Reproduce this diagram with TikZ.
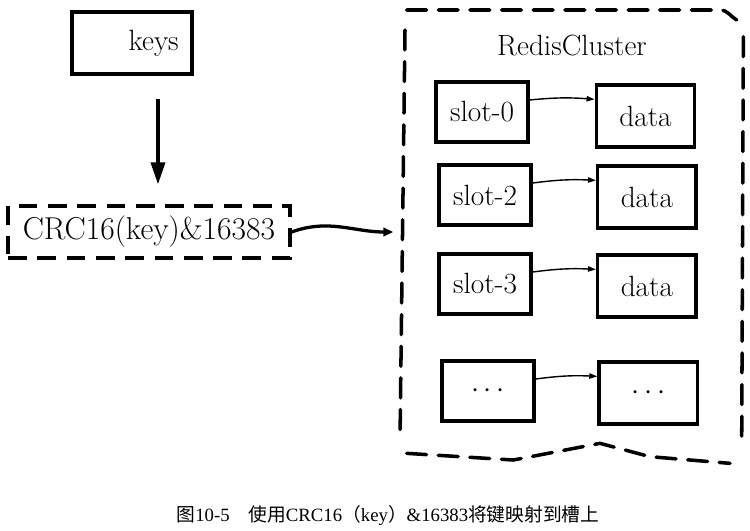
\documentclass[tikz,border=0pt]{standalone}
\usepackage{fontspec}
\usepackage{tikz}
\usetikzlibrary{arrows.meta, positioning, calc}
\newfontfamily\capfont{Liberation Serif}
\newfontfamily\cjk{Noto Sans CJK SC}
\tikzset{
  blk/.style={rectangle, draw=black, line width=3pt, align=center, inner sep=2pt, font=\fontsize{25}{29}\selectfont},
  slotbox/.style={blk, minimum width=2.75cm, minimum height=1.8cm},
  databox/.style={blk, minimum width=2.95cm, minimum height=1.85cm},
  hashbox/.style={blk, dashed, dash pattern=on 16pt off 9pt, minimum width=8.45cm, minimum height=1.55cm, font=\fontsize{27}{31}\selectfont},
  region/.style={line width=3pt, dash pattern=on 17pt off 10pt, line cap=round},
  bigarr/.style={-{Triangle[length=0.66cm, width=0.42cm]}, line width=3pt},
  midarr/.style={-{Triangle[length=0.3cm, width=0.25cm]}, line width=2.8pt},
  thinarr/.style={-{Triangle[length=0.24cm, width=0.16cm]}, line width=1.2pt},
}
\begin{document}
\begin{tikzpicture}
  \useasboundingbox (0,0) rectangle (22.5,-15.9);

  % left side
  \node[blk, minimum width=3.6cm, minimum height=1.86cm] (keys) at (3.96,-1.29) {\hspace*{1.3cm}keys};
  \node[hashbox] (crc) at (4.47,-6.96) {CRC16(key)\&16383};
  \draw[bigarr, shorten <=0.7cm, shorten >=0.6cm] ([xshift=0.78cm]keys.south) -- ([xshift=0.78cm]keys.south |- crc.north);

  % cluster region
  \coordinate (rin) at (11.8,-6.96);
  \draw[region] (12.15,-0.9) -- (12.0,-13.2);
  \draw[region] (12.2,-0.3) -- (21.6,-0.3) to[out=0,in=150] (22.1,-0.6);
  \draw[region] (22.3,-1.1) -- (22.25,-13.4);
  \draw[region] (12.2,-13.6) -- (15.4,-13.8) -- (18.0,-13.3) -- (19.5,-13.7) -- (21.9,-13.9);
  \node[font=\fontsize{25}{29}\selectfont] (title) at (17.16,-1.35) {RedisCluster};
  \draw[midarr] (crc.east) to[out=20,in=180] (rin);

  % slots and data
  \node[slotbox] (s0) at (14.46,-3.36) {slot-0};
  \node[slotbox] (s2) at (14.55,-5.85) {slot-2};
  \node[slotbox] (s3) at (14.55,-8.52) {slot-3};
  \node[slotbox] (s4) at (14.64,-11.73) {$\cdots$};
  \node[databox, right=1.95cm of s0, yshift=-0.12cm] (d0) {data};
  \node[databox, right=1.9cm of s2, yshift=-0.06cm] (d2) {data};
  \node[databox, right=1.9cm of s3, yshift=-0.06cm] (d3) {data};
  \node[databox, right=1.85cm of s4, yshift=-0.06cm] (d4) {$\cdots$};
  \foreach \a/\b in {s0/d0, s2/d2, s3/d3, s4/d4}
    \draw[thinarr] ([yshift=0.36cm]\a.east) to[bend left=5] ([yshift=0.5cm]\b.west);

  % caption
  \node[font=\capfont\fontsize{16}{19}\selectfont] (cap) at (11.64,-15.45)
    {{\cjk 图}10-5\quad{\cjk 使用}CRC16{\cjk （}key{\cjk ）}\&16383{\cjk 将键映射到槽上}};
\end{tikzpicture}
\end{document}
